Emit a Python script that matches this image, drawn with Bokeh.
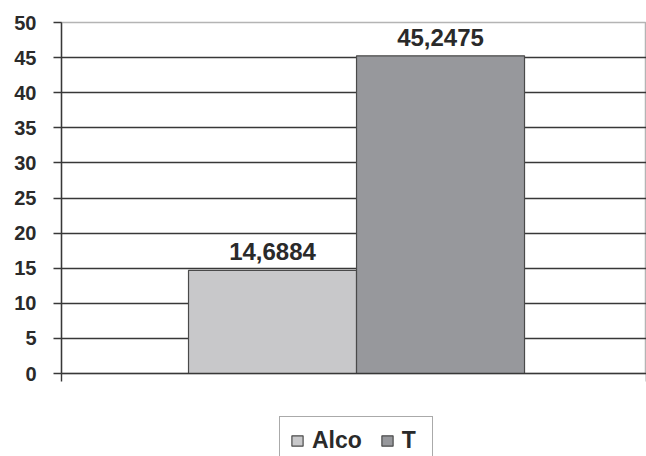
from bokeh.plotting import figure
from bokeh.layouts import column
from bokeh.models import (Range1d, FixedTicker, Legend, LegendItem,
                          ColumnDataSource, LabelSet)
from bokeh.core.properties import value
from bokeh.embed import file_html
from bokeh.resources import INLINE

# data
series = ["Alco", "T"]
values = [14.6884, 45.2475]
colors = ["#c8c8ca", "#97989c"]
y_ticks = [0, 5, 10, 15, 20, 25, 30, 35, 40, 45, 50]

labels = [f"{v:.4f}".replace(".", ",") for v in values]
pos = list(range(len(series)))          # bar slots 0, 1 side by side
src = ColumnDataSource(dict(pos=pos, series=series, values=values,
                            colors=colors, labels=labels))

FONT = "Liberation Sans, Arial, sans-serif"
INK = "#2a2a2a"
GRID = "#383838"
EDGE = "#4a4a4a"

# the bar pair fills a bit more than half of the frame width
x0, x1 = -1.256, 2.226

p = figure(width=646, height=390, output_backend="svg", toolbar_location=None,
           x_range=Range1d(x0, x1), y_range=Range1d(0, 50),
           min_border_left=61, min_border_right=0, min_border_top=22, min_border_bottom=17)
p.background_fill_color = "white"
p.border_fill_color = "white"
p.outline_line_color = "#b4b4b4"
p.outline_line_width = 1.5

# horizontal gridlines
p.xgrid.visible = False
p.ygrid.ticker = FixedTicker(ticks=y_ticks[1:-1])
p.ygrid.grid_line_color = GRID
p.ygrid.grid_line_width = 1.4

# y axis
yax = p.yaxis[0]
yax.ticker = FixedTicker(ticks=y_ticks)
yax.axis_line_color = GRID
yax.axis_line_width = 1.4
yax.major_tick_line_color = GRID
yax.major_tick_line_width = 1.4
yax.major_tick_out = 8
yax.major_tick_in = 0
yax.minor_tick_line_color = None
yax.major_label_standoff = 17
yax.major_label_text_font = FONT
yax.major_label_text_font_style = "bold"
yax.major_label_text_font_size = "20px"
yax.major_label_text_color = INK

# x axis: baseline with a tick at each end of the category span, no labels
xax = p.xaxis[0]
xax.ticker = FixedTicker(ticks=[x0, x1])
xax.axis_line_color = GRID
xax.axis_line_width = 1.4
xax.major_tick_line_color = GRID
xax.major_tick_line_width = 1.4
xax.major_tick_out = 8
xax.major_tick_in = 0
xax.minor_tick_line_color = None
xax.major_label_text_font_size = "0px"

bars = p.vbar(x="pos", top="values", width=1.0, source=src,
              fill_color="colors", line_color=EDGE, line_width=1.2)

lbl = LabelSet(x="pos", y="values", text="labels", source=src,
               text_align="center", text_baseline="alphabetic", y_offset=10,
               text_font=value(FONT), text_font_style="bold", text_font_size="24px",
               text_color=INK)
p.add_layout(lbl)

# legend strip underneath the chart (its frame lines up with the chart frame)
leg = figure(width=646, height=66, output_backend="svg", toolbar_location=None,
             x_range=Range1d(0, 1), y_range=Range1d(100, 101),
             min_border=0, min_border_left=0, min_border_right=0,
             min_border_top=0, min_border_bottom=0)
leg.axis.visible = False
leg.grid.visible = False
leg.outline_line_color = None
leg.background_fill_color = "white"
leg.border_fill_color = "white"
swatches = leg.vbar(x="pos", top="values", width=0.1, source=src,
                    fill_color="colors", line_color=EDGE, line_width=1.2)

legend = Legend(items=[LegendItem(label=s, renderers=[swatches], index=i)
                       for i, s in enumerate(series)],
                orientation="horizontal", location=(218, -9))
legend.glyph_width = 14
legend.glyph_height = 13
legend.label_standoff = 8
legend.spacing = 18
legend.padding = 10
legend.margin = 0
legend.label_text_font = FONT
legend.label_text_font_style = "bold"
legend.label_text_font_size = "23px"
legend.label_text_color = INK
legend.border_line_color = "#555555"
legend.border_line_width = 1.2
legend.background_fill_color = "white"
leg.add_layout(legend)

page = column(p, leg, spacing=0)
open("out.html", "w").write(file_html(page, INLINE))
